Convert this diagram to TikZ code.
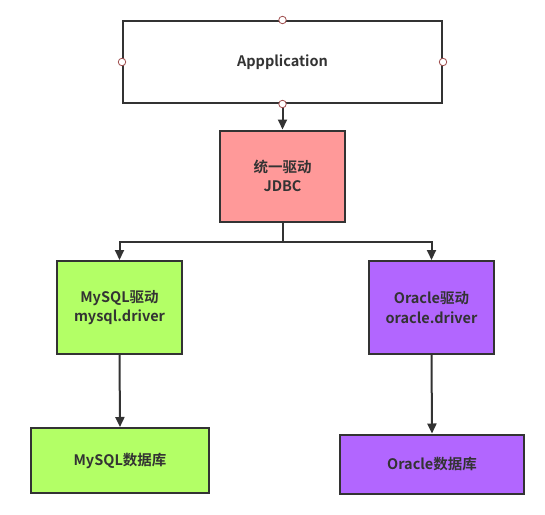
\documentclass[tikz,border=0pt]{standalone}
\usepackage{fontspec}
\setmainfont{Noto Sans CJK SC}[BoldFont={* Bold}]
\usetikzlibrary{arrows.meta}
\definecolor{ln}{HTML}{333333}
\definecolor{pinkc}{HTML}{FF9999}
\definecolor{greenc}{HTML}{B3FF66}
\definecolor{purplec}{HTML}{B266FF}
\definecolor{handle}{HTML}{A05050}
\tikzset{
  x=1pt, y=-1pt,
  box/.style={draw=ln, line width=2pt, inner sep=0pt, text=ln, font=\fontsize{14.5}{19.5}\selectfont\bfseries, align=center},
  conn/.style={draw=ln, line width=2pt, -{Triangle[length=10pt,width=9pt]}},
  hdl/.style={circle, draw=handle, fill=white, line width=0.8pt, minimum size=7.5pt, inner sep=0pt},
}
\begin{document}
\begin{tikzpicture}
\useasboundingbox (0,0) rectangle (545,514);
\node[box, minimum width=319pt, minimum height=82pt] (app) at (282.5,62) {Appplication};
\node[box, fill=pinkc, minimum width=125pt, minimum height=91pt] (jdbc) at (282.5,176) {统一驱动\\JDBC};
\node[box, fill=greenc, minimum width=125pt, minimum height=93pt] (mydrv) at (119.5,307.5) {MySQL驱动\\mysql.driver};
\node[box, fill=purplec, minimum width=125pt, minimum height=93pt] (oradrv) at (431.5,307.5) {Oracle驱动\\oracle.driver};
\node[box, fill=greenc, minimum width=178pt, minimum height=65pt] (mydb) at (120,460.5) {MySQL数据库};
\node[box, fill=purplec, minimum width=184pt, minimum height=59pt] (oradb) at (432,464) {Oracle数据库};
\coordinate (br) at (282.5,242);
\draw[conn] (app.south) -- (jdbc.north);
\draw[draw=ln, line width=2pt] (jdbc.south) -- (br);
\draw[conn] (br) -| (mydrv.north);
\draw[conn] (br) -| (oradrv.north);
\draw[conn] (mydrv.south) -- (mydb.north);
\draw[conn] (oradrv.south) -- (oradb.north);
\node[hdl] at (app.north) {};
\node[hdl] at (app.south) {};
\node[hdl] at (app.west) {};
\node[hdl] at (app.east) {};
\end{tikzpicture}
\end{document}
